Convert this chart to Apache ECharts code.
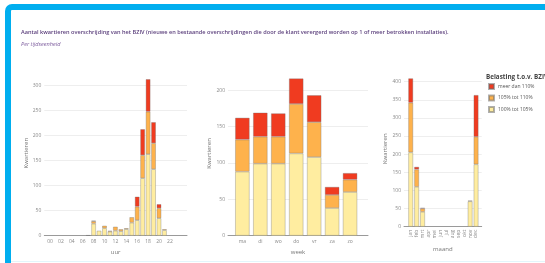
<!DOCTYPE html>
<html><head><meta charset="utf-8">
<script src="https://cdn.jsdelivr.net/npm/echarts@6/dist/echarts.min.js"></script>
<style>
html,body{margin:0;padding:0;background:#fff;}
#wrap{position:relative;width:545px;height:263px;overflow:hidden;}
#frame{position:absolute;left:5px;top:4px;width:560px;height:270px;border-top:6px solid #00aeef;border-left:6px solid #00aeef;border-top-left-radius:7px;box-sizing:border-box;}
#bot{position:absolute;left:11px;top:261px;width:534px;height:1px;background:#e3f5fb;}
#chart{position:absolute;left:0;top:0;width:545px;height:263px;}
</style></head>
<body><div id="wrap"><div id="frame"></div><div id="bot"></div><div id="chart"></div></div>
<script>
const seriesNames = ['100% tot 105%', '105% tot 110%', 'meer dan 110%'];
const legendOrder = ['meer dan 110%', '105% tot 110%', '100% tot 105%'];

const hours = ['00','01','02','03','04','05','06','07','08','09','10','11','12','13','14','15','16','17','18','19','20','21','22','23'];
const hourLabelValues = [0,2,4,6,8,10,12,14,16,18,20,22];
const hourYellow = [0,0,0,0,0,0,0,1,24,10,15,8,10,9,13,26,31,115,163,133,35,11,0,0];
const hourOrange = [0,0,0,0,0,0,0,0,5,0,5,2,8,4,2,11,27,46,85,52,20,2,0,0];
const hourRed    = [0,0,0,0,0,0,0,0,1,0,0,0,0,0,0,0,20,52,65,42,8,0,0,0];

const days = ['ma','di','wo','do','vr','za','zo'];
const weekYellow = [88,99,99,113,108,38,60];
const weekOrange = [44,37,37,68,48,18,17];
const weekRed    = [30,33,32,35,37,11,9];

const months = ['jan','feb','mrt','apr','mei','jun','jul','aug','sep','okt','nov','dec'];
const monthYellow = [205,110,41,0,0,0,0,0,0,0,70,172];
const monthOrange = [137,48,9,0,0,0,0,0,0,0,2,76];
const monthRed    = [67,7,2,0,0,0,0,0,0,0,0,115];

const colors = {'100% tot 105%':'#ffeda0','105% tot 110%':'#feb24c','meer dan 110%':'#f03b20'};
const FONT = '"Open Sans", sans-serif';
const lblColor = '#8a8a8a';

const chart = echarts.init(document.getElementById('chart'), null, {renderer:'canvas'});

// value first, category index second (so the stacked dimension is the value)
function pairs(arr){
  return arr.map((v,i)=> v === 0 ? {value:[v,i], itemStyle:{borderWidth:0, opacity:0}} : {value:[v,i]});
}

const grids = [
  {left:44.3, top:70.7, width:142.7, height:165},
  {left:228, top:71.2, width:140, height:164.5},
  {left:404, top:70.8, width:77.7, height:155.9}
];
const xRanges = [[-1.05,25.14],[-0.8,7.0],[-1.13,11.95]];
const yMax = [330, 226, 430];
const cats = [hours, days, months];
const catValues = [hourLabelValues, days.map((d,i)=>i), months.map((m,i)=>i)];
const xNames = ['uur','week','maand'];
const yNameGap = [13, 16, 13];
const barW = [4.6, 14.4, 4.8];

const xAxes = [], yAxes = [], series = [];
for (let g=0; g<3; g++){
  const c = cats[g];
  xAxes.push({
    type:'value', gridIndex:g, min:xRanges[g][0], max:xRanges[g][1],
    name:xNames[g], nameLocation:'middle', nameGap: g===2 ? 15 : 14,
    nameTextStyle:{fontSize:6, color:'#777', fontFamily:FONT},
    axisLine:{show:true, lineStyle:{color:'#9a9a9a', width:1}},
    axisTick:{show:false},
    splitLine:{show:false},
    axisLabel:{customValues:catValues[g], formatter:v=>c[v], fontSize:5, color:lblColor, fontFamily:FONT, margin: 3, rotate: g===2 ? 90 : 0}
  });
  yAxes.push({
    type:'value', gridIndex:g, min:0, max:yMax[g], interval:50,
    name:'Kwartieren', nameLocation:'middle', nameGap:yNameGap[g], nameRotate:90,
    nameTextStyle:{fontSize:6, color:'#777', fontFamily:FONT},
    axisLine:{show:false}, axisTick:{show:false},
    splitLine:{show:true, showMaxLine:false, lineStyle:{color:'#eeeeee', width:1}},
    axisLabel:{fontSize:5, color:lblColor, fontFamily:FONT, margin:3, showMaxLabel:false}
  });
}
const dataSets = [
  [hourYellow, hourOrange, hourRed],
  [weekYellow, weekOrange, weekRed],
  [monthYellow, monthOrange, monthRed]
];
for (let g=0; g<3; g++){
  for (let s=0; s<3; s++){
    const name = seriesNames[s];
    series.push({
      type:'bar', name, xAxisIndex:g, yAxisIndex:g, stack:'st'+g,
      barWidth:barW[g],
      encode:{x:1, y:0},
      dimensions:[{name:'v', type:'number'},{name:'i', type:'number'}],
      data:pairs(dataSets[g][s]),
      itemStyle:{color:colors[name], borderColor:'rgba(110,110,110,0.55)', borderWidth:0.6},
      emphasis:{disabled:true},
      animation:false
    });
  }
}

chart.setOption({
  animation:false,
  textStyle:{fontFamily:FONT},
  title:[
    {text:'Aantal kwartieren overschrijding van het BZIV (nieuwe en bestaande overschrijdingen die door de klant verergerd worden op 1 of meer betrokken installaties).',
     left:21, top:29.5, padding:0, textStyle:{fontSize:5.6, fontWeight:600, color:'#5b3f7c', fontFamily:FONT}},
    {text:'Per tijdseenheid', left:21, top:41, padding:0,
     textStyle:{fontSize:5.6, fontWeight:400, fontStyle:'italic', color:'#7b5a9c', fontFamily:FONT}},
    {text:'Belasting t.o.v. BZIV', left:486, top:74, padding:0,
     textStyle:{fontSize:6.3, fontWeight:'bold', color:'#444', fontFamily:FONT}}
  ],
  legend:{
    data:legendOrder, orient:'vertical', left:488, top:83, padding:0,
    itemWidth:5, itemHeight:5, itemGap:4.5, icon:'rect',
    textStyle:{fontSize:5, color:'#555', fontFamily:FONT, padding:[0,0,0,-1]},
    selectedMode:false
  },
  grid:grids,
  xAxis:xAxes,
  yAxis:yAxes,
  series:series
});
</script></body></html>
